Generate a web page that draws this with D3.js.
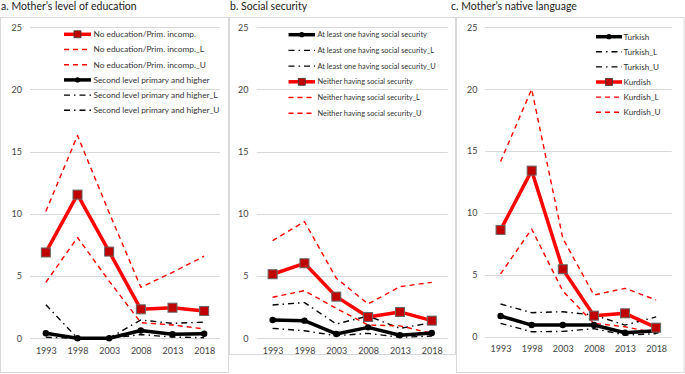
<!DOCTYPE html>
<html><head><meta charset="utf-8">
<script src="https://cdn.jsdelivr.net/npm/d3@7"></script>
<style>
html,body{margin:0;padding:0;background:#fff;}
svg{display:block;font-family:Lato,"Open Sans",sans-serif;}
</style></head>
<body>
<svg id="chart" width="685" height="374"></svg>
<script>
const years = ["1993","1998","2003","2008","2013","2018"];
const yTicks = [0,5,10,15,20,25];

// a. Mother's level of education
const eduNoneMain = [6.9, 11.55, 6.97, 2.33, 2.46, 2.2];
const eduNoneL    = [4.5, 8.1, 4.6, 1.26, 1.07, 0.75];
const eduNoneU    = [10.2, 16.3, 10.1, 4.1, 5.3, 6.6];
const eduSecMain  = [0.4, 0.0, 0.0, 0.63, 0.32, 0.37];
const eduSecL     = [0.08, 0.0, 0.0, 0.3, 0.1, 0.05];
const eduSecU     = [2.7, 0.0, 0.0, 1.47, 1.2, 1.3];

// b. Social security
const ssAnyMain  = [1.47, 1.42, 0.35, 0.88, 0.24, 0.43];
const ssAnyL     = [0.8, 0.61, 0.21, 0.4, 0.08, 0.18];
const ssAnyU     = [2.68, 2.87, 1.15, 1.79, 0.8, 1.26];
const ssNoneMain = [5.15, 6.03, 3.35, 1.71, 2.12, 1.42];
const ssNoneL    = [3.3, 3.83, 2.4, 1.07, 1.0, 0.4];
const ssNoneU    = [7.85, 9.38, 4.83, 2.76, 4.15, 4.5];

// c. Mother's native language
const trMain = [1.67, 0.94, 0.94, 0.94, 0.32, 0.49];
const trL    = [1.08, 0.4, 0.43, 0.65, 0.13, 0.25];
const trU    = [2.64, 1.94, 2.02, 1.75, 0.94, 1.6];
const kuMain = [8.63, 13.42, 5.45, 1.7, 1.89, 0.73];
const kuL    = [5.07, 8.7, 3.7, 1.08, 0.8, 0.3];
const kuU    = [14.15, 20.0, 7.95, 3.37, 3.91, 2.97];

const RED = "#ff0000", BLACK = "#000000";
const styles = {
  redMain:  {color: RED, width: 3.5, dash: null, marker: "square"},
  redCI:    {color: RED, width: 1.4, dash: "5,4", marker: null},
  blackMain:{color: BLACK, width: 3.5, dash: null, marker: "circle"},
  blackCI:  {color: BLACK, width: 1.4, dash: "6,4,1.5,4", marker: null}
};

const panels = [
  {title: "a. Mother\u2019s level of education", titleX: 1,
   box: [0.5, 17.5, 228, 355],
   x0: 30, x1: 220, yBase: 338.3, yTop: 27.3, yLabX: 22,
   leg: {lx0: 64, lx1: 91, tx: 93.5, y0: 34.3, dy: 15.2, fs: 8.3},
   series: [
     {name: "No education/Prim. incomp.", values: eduNoneMain, st: "redMain"},
     {name: "No education/Prim. incomp._L", values: eduNoneL, st: "redCI"},
     {name: "No education/Prim. incomp._U", values: eduNoneU, st: "redCI"},
     {name: "Second level primary and higher", values: eduSecMain, st: "blackMain"},
     {name: "Second level primary and higher_L", values: eduSecL, st: "blackCI"},
     {name: "Second level primary and higher_U", values: eduSecU, st: "blackCI"}
   ]},
  {title: "b. Social security", titleX: 230,
   box: [229.5, 17.5, 226, 337],
   x0: 256.7, x1: 447.7, yBase: 338.3, yTop: 27.3, yLabX: 248.5,
   leg: {lx0: 288.5, lx1: 315, tx: 317.5, y0: 34.7, dy: 15.7, fs: 7.4},
   series: [
     {name: "At least one having social security", values: ssAnyMain, st: "blackMain"},
     {name: "At least one having social security_L", values: ssAnyL, st: "blackCI"},
     {name: "At least one having social security_U", values: ssAnyU, st: "blackCI"},
     {name: "Neither having social security", values: ssNoneMain, st: "redMain"},
     {name: "Neither having social security_L", values: ssNoneL, st: "redCI"},
     {name: "Neither having social security_U", values: ssNoneU, st: "redCI"}
   ]},
  {title: "c. Mother\u2019s native language", titleX: 451,
   box: [456.5, 17.5, 227.5, 355],
   x0: 485, x1: 671.7, yBase: 336.7, yTop: 27.3, yLabX: 477.5,
   leg: {lx0: 596, lx1: 622, tx: 623.5, y0: 36.7, dy: 15.1, fs: 8.2},
   series: [
     {name: "Turkish", values: trMain, st: "blackMain"},
     {name: "Turkish_L", values: trL, st: "blackCI"},
     {name: "Turkish_U", values: trU, st: "blackCI"},
     {name: "Kurdish", values: kuMain, st: "redMain"},
     {name: "Kurdish_L", values: kuL, st: "redCI"},
     {name: "Kurdish_U", values: kuU, st: "redCI"}
   ]}
];

const svg = d3.select("#chart");

panels.forEach(p => {
  const g = svg.append("g");
  g.append("text").attr("x", p.titleX).attr("y", 9.5)
    .attr("font-size", 10.5).attr("fill", "#222").text(p.title);
  g.append("rect").attr("x", p.box[0]).attr("y", p.box[1])
    .attr("width", p.box[2]).attr("height", p.box[3])
    .attr("fill", "none").attr("stroke", "#d9d9d9").attr("stroke-width", 1);

  const x = d3.scalePoint().domain(years).range([p.x0, p.x1]).padding(0.5);
  const y = d3.scaleLinear().domain([0, 25]).range([p.yBase, p.yTop]);

  g.append("g").selectAll("line").data(yTicks).join("line")
    .attr("x1", p.x0).attr("x2", p.x1)
    .attr("y1", d => Math.round(y(d)) + 0.5).attr("y2", d => Math.round(y(d)) + 0.5)
    .attr("stroke", "#d9d9d9").attr("stroke-width", 1);

  const ya = g.append("g").attr("transform", `translate(${p.yLabX},0)`)
    .call(d3.axisLeft(y).tickValues(yTicks).tickSize(0).tickPadding(0));
  ya.select(".domain").remove();
  ya.selectAll("text").attr("font-size", 9).attr("fill", "#444").attr("font-family", "Lato,sans-serif");

  const xa = g.append("g").attr("transform", `translate(0,${p.yBase + 9})`)
    .call(d3.axisBottom(x).tickSize(0).tickPadding(0));
  xa.select(".domain").remove();
  xa.selectAll("text").attr("font-size", 9).attr("fill", "#444").attr("font-family", "Lato,sans-serif");

  const line = d3.line().x((d, i) => x(years[i])).y(d => y(d));

  const order = p.series.slice().sort((a, b) => (styles[a.st].marker ? 1 : 0) - (styles[b.st].marker ? 1 : 0));
  order.forEach(s => {
    const st = styles[s.st];
    g.append("path").datum(s.values).attr("d", line)
      .attr("fill", "none").attr("stroke", st.color).attr("stroke-width", st.width)
      .attr("stroke-dasharray", st.dash).attr("stroke-linejoin", "round");
  });
  order.forEach(s => {
    const st = styles[s.st];
    if (st.marker === "square") {
      g.append("g").selectAll("rect").data(s.values).join("rect")
        .attr("x", (d, i) => x(years[i]) - 4.5).attr("y", d => y(d) - 4.5)
        .attr("width", 9).attr("height", 9)
        .attr("fill", "#c00000").attr("stroke", "#666").attr("stroke-width", 1);
    } else if (st.marker === "circle") {
      g.append("g").selectAll("circle").data(s.values).join("circle")
        .attr("cx", (d, i) => x(years[i])).attr("cy", d => y(d)).attr("r", 3.2)
        .attr("fill", "#000");
    }
  });

  const L = p.leg;
  p.series.forEach((s, i) => {
    const st = styles[s.st];
    const ly = L.y0 + i * L.dy;
    const lg = g.append("g");
    lg.append("line").attr("x1", L.lx0).attr("x2", L.lx1).attr("y1", ly).attr("y2", ly)
      .attr("stroke", st.color).attr("stroke-width", st.marker ? 3.5 : 1.4)
      .attr("stroke-dasharray", st.dash);
    const cx = (L.lx0 + L.lx1) / 2;
    if (st.marker === "square") {
      lg.append("rect").attr("x", cx - 3.5).attr("y", ly - 3.5).attr("width", 7).attr("height", 7)
        .attr("fill", "#c00000").attr("stroke", "#404040").attr("stroke-width", 0.8);
    } else if (st.marker === "circle") {
      lg.append("circle").attr("cx", cx).attr("cy", ly).attr("r", 2.6).attr("fill", "#000");
    }
    lg.append("text").attr("x", L.tx).attr("y", ly).attr("dy", "0.35em")
      .attr("font-size", L.fs).attr("fill", "#333").text(s.name);
  });
});
</script>
</body></html>
